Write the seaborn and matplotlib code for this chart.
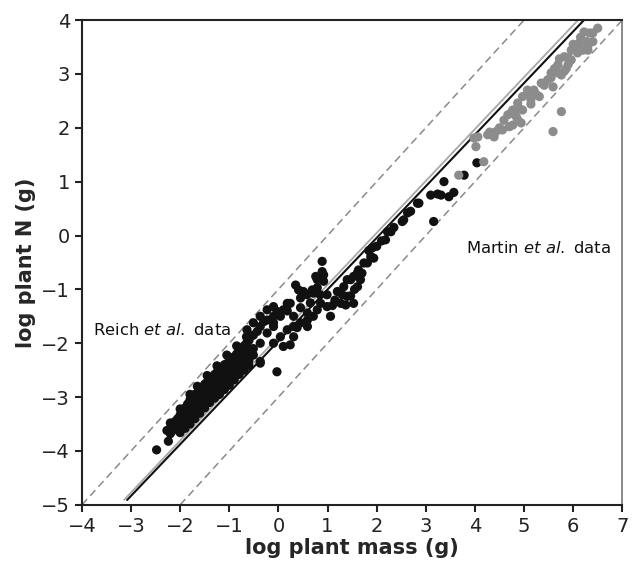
import matplotlib
matplotlib.use("Agg")
import matplotlib.pyplot as plt
import pandas as pd
import seaborn as sns

# Reich et al. data (black)
bx = [-2.48, -2.24, -2.27,
      -2.2, -2.2, -2.15, -2.15, -2.1, -2.1, -2.05, -2.05,
      -2.0, -2.0, -2.0, -1.95, -1.95, -1.9, -1.9, -1.9, -1.85, -1.85,
      -1.8, -1.8, -1.8, -1.75, -1.75, -1.7, -1.7, -1.7, -1.65, -1.65,
      -1.6, -1.6, -1.6, -1.55, -1.55, -1.5, -1.5, -1.5, -1.45, -1.45,
      -1.4, -1.4, -1.4, -1.35, -1.35, -1.3, -1.3, -1.3, -1.25, -1.25,
      -1.2, -1.2, -1.2, -1.15, -1.15, -1.1, -1.1, -1.1, -1.05, -1.05,
      -1.0, -1.0, -1.0, -0.95, -0.95, -0.9, -0.9, -0.9, -0.85, -0.85,
      -0.8, -0.8, -0.8, -0.75, -0.75, -0.7, -0.7, -0.7, -0.65, -0.65,
      -0.6, -0.6, -0.6,
      -2.0, -1.9, -1.8, -1.7, -1.6, -1.5, -1.4, -1.3, -1.2, -1.1,
      -1.0, -0.9, -0.8, -0.7, -0.6,
      -2.2, -2.0, -1.8, -1.65, -1.45, -1.25, -1.05, -0.85, -0.65,
      -0.64, -0.57, -0.51, -0.51, -0.43, -0.37, -0.37, -0.30, -0.23, -0.23,
      -0.23, -0.10, -0.10, -0.10, -0.03, 0.04, 0.10, 0.18, 0.18, 0.24,
      0.31, 0.35, 0.41, 0.45, 0.45, 0.51, 0.58,
      -0.64, -0.51, -0.51, -0.37, -0.37, -0.37, -0.10, -0.10, 0.04, 0.10,
      0.18, 0.24, 0.31, 0.31, 0.38, 0.45, 0.59, 0.59, -0.03,
      0.69, 0.71, 0.76, 0.79, 0.79, 0.89, 0.89, 0.92, 0.92, 0.99,
      0.59, 0.71, 0.79, 0.86, 0.99, 1.06, 0.65, 0.85,
      1.10, 1.15, 1.20, 1.27, 1.30, 1.33, 1.37, 1.40, 1.40, 1.47,
      1.47, 1.53, 1.53, 1.55, 1.61, 1.61, 1.63, 1.67, 1.70, 1.74,
      1.81, 1.84, 1.88, 1.91, 1.94, 2.00,
      2.10, 2.18, 2.22, 2.29, 2.35, 2.52, 2.55, 2.63, 2.69, 2.83,
      2.86, 3.16, 3.10, 3.24, 3.31, 3.47, 3.57, 3.37, 3.78, 4.04]
by = [-3.98, -3.82, -3.62,
      -3.58, -3.68, -3.50, -3.62, -3.45, -3.58, -3.40, -3.52,
      -3.33, -3.45, -3.56, -3.27, -3.40, -3.20, -3.33, -3.46, -3.13, -3.30,
      -3.05, -3.22, -3.38, -3.02, -3.20, -2.95, -3.12, -3.28, -2.92, -3.10,
      -2.85, -3.02, -3.17, -2.82, -3.00, -2.76, -2.92, -3.07, -2.72, -2.92,
      -2.68, -2.83, -2.98, -2.64, -2.84, -2.58, -2.73, -2.90, -2.54, -2.76,
      -2.48, -2.65, -2.83, -2.45, -2.66, -2.40, -2.57, -2.75, -2.38, -2.58,
      -2.33, -2.48, -2.67, -2.30, -2.50, -2.25, -2.40, -2.58, -2.20, -2.40,
      -2.12, -2.30, -2.48, -2.10, -2.32, -2.05, -2.22, -2.40, -2.00, -2.22,
      -1.95, -2.12, -2.32,
      -3.66, -3.58, -3.50, -3.40, -3.30, -3.20, -3.10, -3.02, -2.95, -2.86,
      -2.78, -2.68, -2.58, -2.50, -2.42,
      -3.48, -3.22, -2.95, -2.80, -2.60, -2.42, -2.22, -2.05, -1.88,
      -1.75, -1.88, -1.62, -1.85, -1.78, -1.50, -1.69, -1.60, -1.38, -1.57,
      -1.81, -1.32, -1.50, -1.62, -1.41, -1.50, -1.38, -1.26, -1.40, -1.26,
      -1.50, -0.92, -1.01, -1.16, -1.34, -1.04, -1.10,
      -2.00, -2.10, -2.22, -2.00, -2.34, -2.37, -1.69, -2.00, -1.88, -2.06,
      -1.75, -2.03, -1.69, -1.88, -1.71, -1.62, -1.57, -1.69, -2.53,
      -1.01, -1.07, -0.76, -0.97, -0.82, -0.48, -0.67, -0.73, -0.85, -1.10,
      -1.44, -1.50, -1.38, -1.26, -1.32, -1.50, -1.25, -1.10,
      -1.30, -1.20, -1.04, -1.26, -1.10, -0.95, -1.29, -0.82, -1.13, -0.82,
      -1.12, -0.76, -1.26, -1.00, -0.69, -0.95, -0.64, -0.82, -0.70, -0.51,
      -0.51, -0.28, -0.39, -0.23, -0.42, -0.20,
      -0.10, -0.08, 0.07, 0.07, 0.15, 0.26, 0.29, 0.42, 0.45, 0.60,
      0.60, 0.26, 0.75, 0.77, 0.75, 0.72, 0.80, 1.00, 1.12, 1.35]

# Martin et al. data (grey)
gx = [6.50, 6.40, 6.33, 6.22, 6.27, 6.40, 6.30, 6.12, 6.20, 6.30,
      5.96, 6.09, 5.82, 5.96, 5.90, 5.86, 5.82, 5.69, 5.76, 5.69,
      5.55, 5.55, 5.48, 5.41, 5.35, 5.59, 5.20, 5.07, 5.07, 5.31,
      4.97, 5.14, 5.14, 4.87, 4.90, 4.77, 4.80, 4.97, 4.73, 4.67,
      4.84, 4.87, 4.59, 4.77, 4.70, 4.94, 5.76, 5.59, 4.56, 4.50,
      4.43, 4.39, 4.26, 4.30, 4.06, 4.02, 4.18, 3.67, 3.98, 6.00,
      6.15, 5.90, 5.72, 6.05, 5.62, 5.25]
gy = [3.85, 3.76, 3.76, 3.78, 3.60, 3.60, 3.52, 3.57, 3.44, 3.44,
      3.44, 3.39, 3.32, 3.26, 3.18, 3.10, 3.05, 3.17, 2.98, 3.02,
      3.02, 2.93, 2.89, 2.79, 2.83, 2.76, 2.70, 2.70, 2.62, 2.58,
      2.58, 2.52, 2.44, 2.46, 2.36, 2.33, 2.28, 2.33, 2.27, 2.24,
      2.21, 2.15, 2.14, 2.05, 2.02, 2.09, 2.30, 1.93, 1.96, 2.00,
      1.93, 1.83, 1.87, 1.92, 1.83, 1.65, 1.37, 1.12, 1.81, 3.55,
      3.68, 3.30, 3.28, 3.48, 3.10, 2.62]

# reference lines: dashed y = x + c, fitted lines
dash_offsets = [-1, -3]
dash_xstart = [-4, -2]
dash_xend = [5, 7]
fit_x = [-3.08, 6.22]
fit_slope, fit_icpt = 0.958, -1.96
grey_x = [-3.14, 6.10]
grey_slope, grey_icpt = 0.964, -1.88

df = pd.DataFrame({
    "mass": bx + gx,
    "N": by + gy,
    "source": ["Reich"] * len(bx) + ["Martin"] * len(gx),
})

sns.set_style("ticks")
plt.rcParams['font.family'] = ['DejaVu Sans']

fig, ax = plt.subplots(figsize=(6.35, 5.73), dpi=100)
fig.subplots_adjust(left=0.129, right=0.98, bottom=0.119, top=0.965)

for c, x0, x1 in zip(dash_offsets, dash_xstart, dash_xend):
    ax.plot([x0, x1], [x0 + c, x1 + c], color="#8a8a8a", lw=1.1,
            dashes=(5, 3), zorder=1)
ax.plot(grey_x, [grey_slope * v + grey_icpt for v in grey_x],
        color="#a8a8a8", lw=1.3, zorder=1)
ax.plot(fit_x, [fit_slope * v + fit_icpt for v in fit_x],
        color="#111111", lw=1.5, zorder=2)

sns.scatterplot(data=df, x="mass", y="N", hue="source",
                palette={"Reich": "#111111", "Martin": "#8c8c8c"},
                s=44, edgecolor="none", legend=False, ax=ax, zorder=3)

ax.text(-3.78, -1.75, r"Reich $\mathit{et\ al.}$ data", va="center",
        fontsize=11.8, color="#111111")
ax.text(3.82, -0.23, r"Martin $\mathit{et\ al.}$ data", va="center",
        fontsize=11.8, color="#111111")

ax.set_xlim(-4, 7)
ax.set_ylim(-5, 4)
ax.set_xticks(range(-4, 8))
ax.set_yticks(range(-5, 5))
ax.tick_params(labelsize=14, length=5, width=1.5, direction="out",
               colors="#222222")
for sp in ax.spines.values():
    sp.set_visible(True)
    sp.set_linewidth(1.5)
    sp.set_color("#222222")
ax.spines["right"].set_color("#777777")
ax.spines["right"].set_linewidth(1.2)

ax.set_xlabel("log plant mass (g)", fontsize=15, fontweight="bold",
              labelpad=2)
ax.set_ylabel("log plant N (g)", fontsize=15, fontweight="bold",
              labelpad=4)

fig.savefig("out.png", dpi=100)
